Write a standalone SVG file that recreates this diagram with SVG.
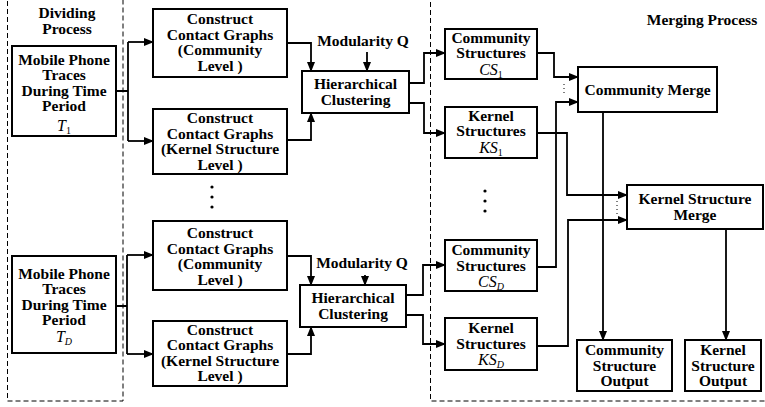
<svg xmlns="http://www.w3.org/2000/svg" width="765" height="407" viewBox="0 0 765 407">
<defs>
<marker id="ah" markerWidth="10" markerHeight="8" refX="9" refY="4" orient="auto" markerUnits="userSpaceOnUse">
<path d="M0,0 L10,4 L0,8 z" fill="#000"/>
</marker>
<style>
.bg{fill:#fff}
.box{fill:#fff;stroke:#000;stroke-width:2}
.dash{fill:none;stroke:#000;stroke-width:1;stroke-dasharray:5,3}
.ln{fill:none;stroke:#000;stroke-width:1.8}
.ar{fill:none;stroke:#000;stroke-width:1.8;marker-end:url(#ah)}
.dot{fill:none;stroke:#000;stroke-width:1;stroke-dasharray:1,3}
text{font-family:"Liberation Serif","Times New Roman",serif;font-size:15.5px;font-weight:bold;text-anchor:middle;fill:#000}
.m{font-weight:normal;font-style:italic;font-size:16px}
.s{font-size:10px;font-style:normal}
.si{font-size:10px;font-style:italic}
</style>
</defs>
<rect class="bg" x="0" y="0" width="765" height="407"/>
<rect class="dash" x="7.5" y="-5" width="115.5" height="406"/>
<rect class="dash" x="430.5" y="-5" width="340" height="406"/>
<text x="67" y="18">Dividing</text>
<text x="67" y="33.5">Process</text>
<text x="702" y="25">Merging Process</text>

<g id="connectors">
<path class="ln" d="M116,91 H128 M128,42 V141"/>
<path class="ar" d="M128,42 H153"/>
<path class="ar" d="M128,141 H153"/>
<path class="ar" d="M287,43 H311 V71"/>
<path class="ar" d="M367,52 V71"/>
<path class="ar" d="M287,140 H311 V113"/>
<path class="ar" d="M409,83 H424 V53 H445"/>
<path class="ar" d="M409,103 H424 V133 H445"/>
<path class="ar" d="M537,53 H554 V77 H578"/>
<path class="ar" d="M537,133 H567 V195 H627"/>
<path class="ar" d="M537,267 H556 V102 H578"/>
<path class="ar" d="M537,346 H568 V220 H627"/>
<path class="ar" d="M603,112 V340"/>
<path class="ar" d="M726,229 V340"/>
<path class="ln" d="M116,306 H127 M127,255 V354"/>
<path class="ar" d="M127,255 H153"/>
<path class="ar" d="M127,354 H153"/>
<path class="ar" d="M287,256 H311 V285"/>
<path class="ar" d="M365,275 V285"/>
<path class="ar" d="M287,354 H311 V327"/>
<path class="ar" d="M406,295 H423 V265 H445"/>
<path class="ar" d="M406,315 H423 V344 H445"/>
<path class="dot" d="M564,84 V95"/>
<path class="dot" d="M617,201 V214"/>
<circle cx="212" cy="187" r="1.6"/>
<circle cx="212" cy="197" r="1.6"/>
<circle cx="212" cy="207" r="1.6"/>
<circle cx="485" cy="191" r="1.6"/>
<circle cx="485" cy="201" r="1.6"/>
<circle cx="485" cy="211" r="1.6"/>
</g>

<g id="mp1">
<rect class="box" x="12" y="46" width="104" height="90"/>
<text x="64" y="64.5">Mobile Phone</text>
<text x="64" y="80">Traces</text>
<text x="64" y="95.5">During Time</text>
<text x="64" y="111">Period</text>
<text x="64" y="131" class="m">T<tspan class="s" dy="3">1</tspan></text>
</g>
<g id="mpD">
<rect class="box" x="12" y="256" width="104" height="97"/>
<text x="64" y="278.5">Mobile Phone</text>
<text x="64" y="294">Traces</text>
<text x="64" y="309.5">During Time</text>
<text x="64" y="325">Period</text>
<text x="64" y="342" class="m">T<tspan class="si" dy="3">D</tspan></text>
</g>

<g id="cg1">
<rect class="box" x="153" y="9" width="134" height="68"/>
<text x="220" y="24">Construct</text>
<text x="220" y="39.5">Contact Graphs</text>
<text x="220" y="55">(Community</text>
<text x="220" y="70.5">Level )</text>
</g>
<g id="cg2">
<rect class="box" x="153" y="109" width="134" height="65"/>
<text x="220" y="123">Construct</text>
<text x="220" y="138.5">Contact Graphs</text>
<text x="220" y="154">(Kernel Structure</text>
<text x="220" y="169.5">Level )</text>
</g>
<g id="cg3">
<rect class="box" x="153" y="221" width="134" height="69"/>
<text x="220" y="238">Construct</text>
<text x="220" y="253.5">Contact Graphs</text>
<text x="220" y="269">(Community</text>
<text x="220" y="284.5">Level )</text>
</g>
<g id="cg4">
<rect class="box" x="153" y="321" width="134" height="65"/>
<text x="220" y="334.5">Construct</text>
<text x="220" y="350">Contact Graphs</text>
<text x="220" y="365.5">(Kernel Structure</text>
<text x="220" y="381">Level )</text>
</g>

<g id="mq1"><text x="363" y="46">Modularity Q</text></g>
<g id="mq2"><text x="362" y="268">Modularity Q</text></g>

<g id="hc1">
<rect class="box" x="302" y="71" width="107" height="42"/>
<text x="355.5" y="89">Hierarchical</text>
<text x="355.5" y="104.5">Clustering</text>
</g>
<g id="hc2">
<rect class="box" x="300" y="285" width="106" height="42"/>
<text x="353" y="303">Hierarchical</text>
<text x="353" y="318.5">Clustering</text>
</g>

<g id="cs1">
<rect class="box" x="445" y="29" width="92" height="50"/>
<text x="491" y="42.5">Community</text>
<text x="491" y="58">Structures</text>
<text x="491" y="74.5" class="m">CS<tspan class="s" dy="3">1</tspan></text>
</g>
<g id="ks1">
<rect class="box" x="445" y="107" width="92" height="51"/>
<text x="491" y="120.5">Kernel</text>
<text x="491" y="136">Structures</text>
<text x="491" y="152.5" class="m">KS<tspan class="s" dy="3">1</tspan></text>
</g>
<g id="csD">
<rect class="box" x="445" y="240" width="92" height="51"/>
<text x="491" y="255">Community</text>
<text x="491" y="270.5">Structures</text>
<text x="491" y="287" class="m">CS<tspan class="si" dy="3">D</tspan></text>
</g>
<g id="ksD">
<rect class="box" x="445" y="318" width="92" height="52"/>
<text x="491" y="333">Kernel</text>
<text x="491" y="348.5">Structures</text>
<text x="491" y="364.5" class="m">KS<tspan class="si" dy="3">D</tspan></text>
</g>

<g id="cmerge">
<rect class="box" x="578" y="67" width="139" height="45"/>
<text x="647.5" y="95">Community Merge</text>
</g>
<g id="kmerge">
<rect class="box" x="627" y="185" width="136" height="44"/>
<text x="695" y="204">Kernel Structure</text>
<text x="695" y="219.5">Merge</text>
</g>
<g id="cso">
<rect class="box" x="577" y="340" width="95" height="51"/>
<text x="624.5" y="355">Community</text>
<text x="624.5" y="370.5">Structure</text>
<text x="624.5" y="386">Output</text>
</g>
<g id="kso">
<rect class="box" x="685" y="340" width="76" height="51"/>
<text x="723" y="355">Kernel</text>
<text x="723" y="370.5">Structure</text>
<text x="723" y="386">Output</text>
</g>
</svg>
